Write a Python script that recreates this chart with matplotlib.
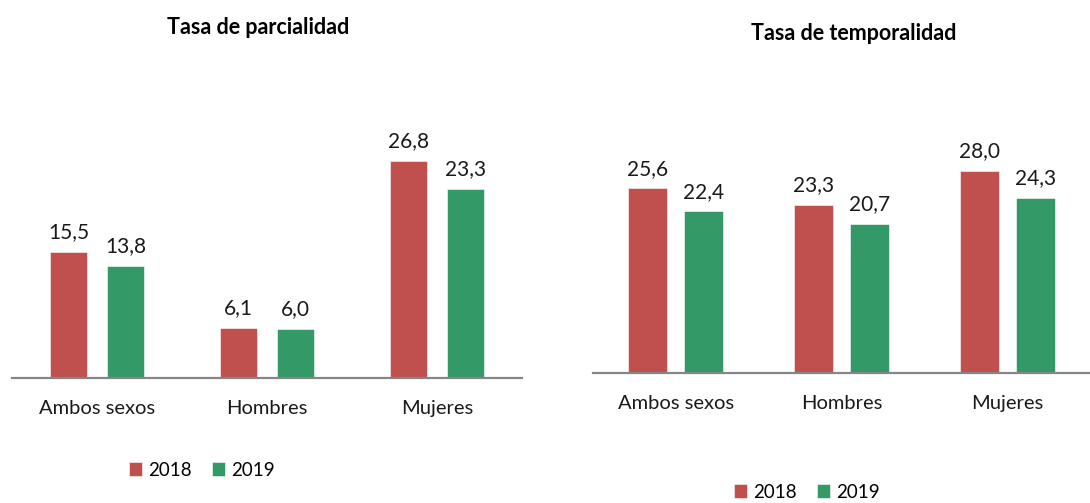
import matplotlib.pyplot as plt
import numpy as np

# datos
categorias = ["Ambos sexos", "Hombres", "Mujeres"]
parcialidad_2018 = [15.5, 6.1, 26.8]
parcialidad_2019 = [13.8, 6.0, 23.3]
temporalidad_2018 = [25.6, 23.3, 28.0]
temporalidad_2019 = [22.4, 20.7, 24.3]
anios = ["2018", "2019"]

ROJO = "#C0504D"
VERDE = "#339966"
GRIS = "#868686"

plt.rcParams["font.family"] = ["Lato", "DejaVu Sans"]

W, H = 1090, 503
fig = plt.figure(figsize=(W / 100, H / 100), dpi=100)


def px_axes(x0, x1, y_base, px_per_unit, ymax):
    # caja de ejes en pixeles -> fracciones de figura
    alto = px_per_unit * ymax
    return fig.add_axes([x0 / W, (H - y_base) / H, (x1 - x0) / W, alto / H])


def fmt(v):
    return f"{v:.1f}".replace(".", ",")


def panel(ax, serie1, serie2, titulo, ancho, desp, ymax, pad_tick, leg_anchor, tit_xy):
    x = np.arange(len(categorias))
    b1 = ax.bar(x - desp, serie1, ancho, color=ROJO, label=anios[0], edgecolor="white", linewidth=0.4)
    b2 = ax.bar(x + desp, serie2, ancho, color=VERDE, label=anios[1], edgecolor="white", linewidth=0.4)
    ax.bar_label(b1, labels=[fmt(v) for v in serie1], padding=7, fontsize=15, color="#1a1a1a")
    ax.bar_label(b2, labels=[fmt(v) for v in serie2], padding=7, fontsize=15, color="#1a1a1a")
    ax.set_xlim(-0.5, len(categorias) - 0.5)
    ax.set_ylim(0, ymax)
    ax.set_xticks(x)
    ax.set_xticklabels(categorias, fontsize=14.5, color="#1a1a1a")
    ax.tick_params(axis="x", length=0, pad=pad_tick)
    ax.set_yticks([])
    for s in ["top", "left", "right"]:
        ax.spines[s].set_visible(False)
    ax.spines["bottom"].set_color(GRIS)
    ax.spines["bottom"].set_linewidth(1.6)
    ax.set_facecolor("none")
    fig.text(tit_xy[0] / W, 1 - tit_xy[1] / H, titulo,
             ha="center", va="center", fontsize=15.5, fontweight="bold")
    ax.legend(loc="center", bbox_to_anchor=leg_anchor, bbox_transform=fig.transFigure,
              ncol=2, frameon=False, fontsize=13.5, handlelength=0.7, handleheight=0.7,
              handletextpad=0.3, columnspacing=1.1)


ax1 = px_axes(12, 522, 377.7, 8.1, 30)
panel(ax1, parcialidad_2018, parcialidad_2019, "Tasa de parcialidad",
      37 / 170, 28.5 / 170, 30, 16, (202 / W, 1 - 470 / H), (258, 28))

ax2 = px_axes(593, 1090, 372.7, 7.2, 30)
panel(ax2, temporalidad_2018, temporalidad_2019, "Tasa de temporalidad",
      39 / 165.7, 28 / 165.7, 30, 16, (807 / W, 1 - 492 / H), (854, 33))

fig.savefig("out.png", dpi=100, facecolor="white")
